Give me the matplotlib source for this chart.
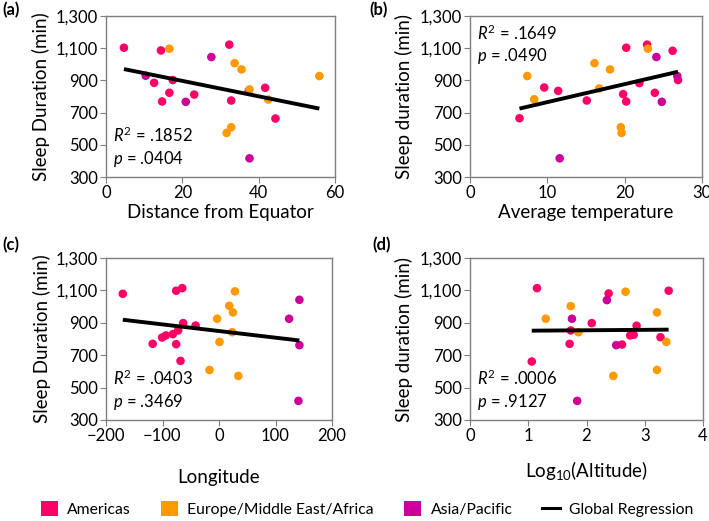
import numpy as np
import matplotlib
matplotlib.use('Agg')
import matplotlib.pyplot as plt
from matplotlib.lines import Line2D
from matplotlib.patches import Patch

# Шрифт, похожий на Calibri
plt.rcParams['font.family'] = ['Lato', 'DejaVu Sans']
plt.rcParams['mathtext.fontset'] = 'custom'
plt.rcParams['mathtext.rm'] = 'Lato'
plt.rcParams['mathtext.it'] = 'Lato:italic'

# Цвета регионов
regions = ['Americas', 'Europe/Middle East/Africa', 'Asia/Pacific']
region_colors = {'A': '#FF0066', 'E': '#FF9900', 'P': '#CC0099'}

# (a) расстояние от экватора
dist_x = [4.7, 14.4, 32.3, 12.6, 17.5, 16.6, 14.7, 23.1, 32.8, 41.7, 44.4, 37.4,
          16.6, 33.7, 35.5, 55.9, 37.6, 42.5, 32.8, 31.6,
          27.6, 10.4, 20.9, 37.6]
dist_y = [1103, 1086, 1122, 885, 902, 823, 769, 812, 775, 854, 663, 835,
          1097, 1007, 968, 927, 844, 781, 609, 574,
          1045, 929, 767, 416]
dist_reg = list('AAAAAAAAAAAA') + list('EEEEEEEE') + list('PPPP')

# (b) средняя температура
temp_x = [6.4, 9.6, 11.4, 15.1, 19.8, 20.2, 20.2, 21.9, 22.9, 23.9, 26.2, 26.9,
          7.4, 8.3, 16.1, 16.7, 18.1, 19.5, 19.6, 23.0,
          11.6, 24.1, 24.8, 26.8]
temp_y = [665, 856, 835, 775, 815, 769, 1103, 883, 1122, 823, 1084, 902,
          927, 783, 1007, 850, 968, 609, 574, 1097,
          416, 1045, 767, 927]
temp_reg = list('AAAAAAAAAAAA') + list('EEEEEEEE') + list('PPPP')

# (c) долгота
lon_x = [-170.3, -117.4, -100.7, -94.2, -81.7, -75.8, -65.1, -75.8, -72.3, -68.1, -63.4, -41.4,
         -3.3, 0.9, -16.9, 18.1, 24.7, 28.2, 23.5, 34.2,
         124.0, 142.3, 142.3, 140.6]
lon_y = [1079, 770, 809, 822, 830, 1098, 1114, 768, 853, 665, 898, 883,
         925, 782, 609, 1005, 964, 1094, 842, 572,
         925, 1042, 762, 418]
lon_reg = list('AAAAAAAAAAAA') + list('EEEEEEEE') + list('PPPP')

# (d) log10 высоты
alt_x = [1.06, 1.15, 1.73, 1.71, 2.09, 2.38, 2.61, 2.75, 2.81, 2.86, 3.27, 3.41,
         1.30, 1.73, 1.86, 2.46, 2.67, 3.21, 3.21, 3.37,
         1.75, 1.84, 2.35, 2.51]
alt_y = [661, 1114, 853, 770, 898, 1081, 766, 822, 826, 882, 811, 1098,
         925, 1003, 842, 572, 1092, 964, 609, 782,
         925, 418, 1040, 762]
alt_reg = list('AAAAAAAAAAAA') + list('EEEEEEEE') + list('PPPP')

panels = [
    ('(a)', dist_x, dist_y, dist_reg, 'Distance from Equator', 'Sleep Duration (min)',
     (0, 60), [0, 20, 40, 60], ('.1852', '.0404'), 'bottom'),
    ('(b)', temp_x, temp_y, temp_reg, 'Average temperature', 'Sleep duration (min)',
     (0, 30), [0, 10, 20, 30], ('.1649', '.0490'), 'top'),
    ('(c)', lon_x, lon_y, lon_reg, 'Longitude', 'Sleep Duration (min)',
     (-200, 200), [-200, -100, 0, 100, 200], ('.0403', '.3469'), 'bottom'),
    ('(d)', alt_x, alt_y, alt_reg, r'Log$_{10}$(Altitude)', 'Sleep duration (min)',
     (0, 4), [0, 1, 2, 3, 4], ('.0006', '.9127'), 'bottom'),
]

# положение осей в пикселях (left, top, right, bottom), подпись оси x, метка панели
W, H = 709, 521
boxes = [(106, 16, 335, 177), (470, 16, 702, 177),
         (106, 258, 332, 420), (470, 258, 703, 420)]
xlab_y = [-0.17, -0.17, -0.30, -0.24]
tag_xy = [(2, 10), (369, 10), (2, 245), (372, 245)]

fig = plt.figure(figsize=(W / 100, H / 100), dpi=100)
frame = '#7F7F7F'

for i, (tag, xs, ys, reg, xlab, ylab, xlim, xt, stats, pos) in enumerate(panels):
    l, t, r, b = boxes[i]
    ax = fig.add_axes([l / W, (H - b) / H, (r - l) / W, (b - t) / H])
    xs = np.array(xs)
    ys = np.array(ys)
    cols = [region_colors[c] for c in reg]
    ax.scatter(xs, ys, c=cols, s=38, linewidths=0, zorder=2)

    # глобальная регрессия
    k, c0 = np.polyfit(xs, ys, 1)
    xx = np.array([xs.min(), xs.max()])
    ax.plot(xx, k * xx + c0, color='black', lw=2.8, zorder=3, solid_capstyle='butt')

    ax.set_xlim(*xlim)
    ax.set_ylim(300, 1300)
    ax.set_xticks(xt)
    ax.set_xticklabels([str(v).replace('-', '\u2212') for v in xt])
    ax.set_yticks([300, 500, 700, 900, 1100, 1300])
    ax.set_yticklabels(['300', '500', '700', '900', '1,100', '1,300'])
    ax.tick_params(labelsize=12, length=4, color=frame, pad=2)
    for s in ax.spines.values():
        s.set_color(frame)
        s.set_linewidth(1.0)

    ax.set_ylabel(ylab, fontsize=13.5)
    ax.yaxis.set_label_coords(-0.245, 0.5)
    ax.set_xlabel(xlab, fontsize=13.5)
    ax.xaxis.set_label_coords(0.5, xlab_y[i])

    if pos == 'bottom':
        y1, y2 = 0.26, 0.11
    else:
        y1, y2 = 0.89, 0.75
    ax.text(0.03, y1, r'$\mathit{R}^2$ = ' + stats[0], transform=ax.transAxes,
            fontsize=12, va='center')
    ax.text(0.03, y2, r'$\mathit{p}$ = ' + stats[1], transform=ax.transAxes,
            fontsize=12, va='center')

    tx, ty = tag_xy[i]
    fig.text(tx / W, 1 - ty / H, tag, fontsize=12, fontweight='bold',
             va='center', ha='left')

# легенда
handles = [Patch(facecolor=region_colors[k], edgecolor='none') for k in 'AEP']
handles.append(Line2D([0], [0], color='black', lw=2.2))
fig.legend(handles, regions + ['Global Regression'], loc='center',
           bbox_to_anchor=(367 / W, 1 - 509 / H), ncol=4, frameon=False, fontsize=11.3,
           handlelength=1.1, handleheight=1.1, columnspacing=1.9, handletextpad=0.6,
           borderaxespad=0, borderpad=0)

fig.savefig('out.png', dpi=100)
